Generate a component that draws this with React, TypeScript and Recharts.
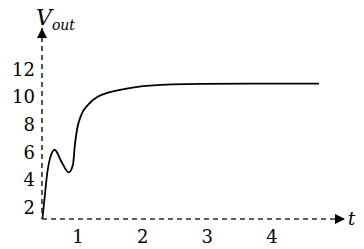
import React from 'react';
import { LineChart, Line, XAxis, YAxis } from 'recharts';

const timeValues = [0.45, 0.485, 0.525, 0.562, 0.639, 0.741, 0.856, 0.922, 0.949, 0.984, 1.051, 1.154, 1.309, 1.464, 1.649, 2.113, 2.886, 3.659, 4.726];
const voutValues = [1.15, 2.72, 4.46, 5.41, 6.13, 5.28, 4.49, 5.04, 6.37, 7.58, 8.67, 9.39, 9.99, 10.28, 10.48, 10.79, 10.91, 10.93, 10.93];
const timeTicks = [1, 2, 3, 4];
const voutTicks = [2, 4, 6, 8, 10, 12];

const data = timeValues.map((t, i) => ({ t, v: voutValues[i] }));

const serif = 'DejaVu Serif';
const axisColor = '#2a2a2a';

const XTick = (props: any) => {
    const { x, y, payload } = props;
    return (
        <text x={x} y={y + 15} textAnchor="middle" fill="#000" fontFamily={serif} fontSize={18}>
            {payload.value}
        </text>
    );
};

const YTick = (props: any) => {
    const { x, y, payload } = props;
    return (
        <text x={x} y={y + 7} textAnchor="end" fill="#000" fontFamily={serif} fontSize={18}>
            {payload.value}
        </text>
    );
};

const VoutLabel = (props: any) => {
    const vb = props.viewBox || {};
    const x = vb.x + vb.width - 6;
    const y = vb.y - 3;
    return (
        <text x={x} y={y} fontFamily={serif} fontStyle="italic" fill="#000">
            <tspan fontSize={22}>V</tspan>
            <tspan fontSize={14} dy={5}>out</tspan>
        </text>
    );
};

const TimeLabel = (props: any) => {
    const vb = props.viewBox || {};
    return (
        <text x={vb.x + vb.width + 3} y={vb.y + 6} fontFamily={serif} fontStyle="italic" fontSize={18} fill="#000">
            t
        </text>
    );
};

export default function App() {
    return (
        <div style={{ position: 'absolute', left: 0, top: 0, width: 364, height: 249, background: '#fff' }}>
            <LineChart width={364} height={249} data={data} margin={{ top: 28, right: 19, bottom: 0, left: 2 }}>
                <defs>
                    <marker id="arrowHead" viewBox="0 0 10 10" refX="10" refY="5"
                        markerUnits="userSpaceOnUse" markerWidth="12" markerHeight="10"
                        orient="auto-start-reverse">
                        <path d="M0,0 L10,5 L0,10 z" fill="#000" stroke="none" />
                    </marker>
                </defs>
                <XAxis
                    dataKey="t"
                    type="number"
                    domain={[0.443, 5.129]}
                    ticks={timeTicks}
                    allowDataOverflow
                    height={30}
                    tickLine={false}
                    tickSize={0}
                    tickMargin={9}
                    axisLine={{ stroke: axisColor, strokeWidth: 1.6, strokeDasharray: '5 4', markerEnd: 'url(#arrowHead)' }}
                    tick={<XTick />}
                    label={{ content: TimeLabel }}
                />
                <YAxis
                    type="number"
                    domain={[1.1, 14.97]}
                    ticks={voutTicks}
                    allowDataOverflow
                    width={40}
                    tickLine={false}
                    tickSize={0}
                    tickMargin={7}
                    axisLine={{ stroke: axisColor, strokeWidth: 1.6, strokeDasharray: '5 4', markerStart: 'url(#arrowHead)' }}
                    tick={<YTick />}
                    label={{ content: VoutLabel }}
                />
                <Line
                    type="monotone"
                    dataKey="v"
                    stroke="#000"
                    strokeWidth={1.8}
                    dot={false}
                    isAnimationActive={false}
                />
            </LineChart>
        </div>
    );
}
